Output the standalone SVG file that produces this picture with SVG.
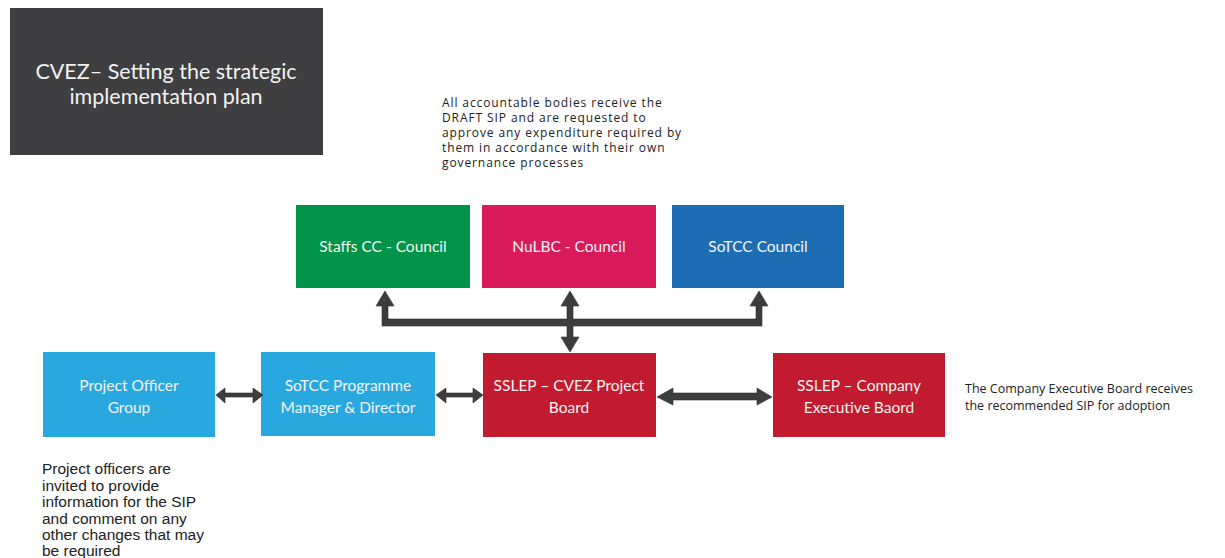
<svg xmlns="http://www.w3.org/2000/svg" width="1225" height="558" viewBox="0 0 1225 558">
<style>
.box text{font-family:Lato,"Open Sans","Liberation Sans",sans-serif;font-size:15.5px;fill:#f4f4f4;text-anchor:middle}
.note{font-family:"Open Sans",Lato,"Liberation Sans",sans-serif;font-size:12px;letter-spacing:0.9px;fill:#222}
.note3{font-family:"Open Sans",Lato,"Liberation Sans",sans-serif;font-size:12.5px;fill:#222}
.note2{font-family:"Liberation Sans",Arial,sans-serif;font-size:15.5px;fill:#222}
.arr{fill:#3d3d3d;stroke:#2b2b2b;stroke-width:0.6}
</style>
<rect width="1225" height="558" fill="#ffffff"/>
<g id="title">
<rect x="10" y="8" width="313" height="147" fill="#3f3e40"/>
<text x="166" y="79" font-family="Lato,'Open Sans','Liberation Sans',sans-serif" font-size="21.5" fill="#f2f2f2" text-anchor="middle">CVEZ– Setting the strategic</text>
<text x="166" y="104" font-family="Lato,'Open Sans','Liberation Sans',sans-serif" font-size="21.5" fill="#f2f2f2" text-anchor="middle">implementation plan</text>
</g>
<g id="note-top" class="note">
<text x="442" y="107">All accountable bodies receive the</text>
<text x="442" y="122">DRAFT  SIP and are requested  to</text>
<text x="442" y="137">approve any expenditure  required by</text>
<text x="442" y="152">them  in accordance with their own</text>
<text x="442" y="167">governance processes</text>
</g>
<g id="staffs" class="box"><rect x="296" y="205" width="174" height="83" fill="#00944a"/><text x="383" y="252">Staffs CC  - Council</text></g>
<g id="nulbc" class="box"><rect x="482" y="205" width="174" height="83" fill="#d91b5b"/><text x="569" y="252">NuLBC - Council</text></g>
<g id="sotcc" class="box"><rect x="672" y="205" width="172" height="83" fill="#1c6db4"/><text x="758" y="252">SoTCC Council</text></g>
<g id="pog" class="box"><rect x="43" y="352" width="172" height="85" fill="#29a7df"/><text x="129" y="391">Project Officer</text><text x="129" y="413">Group</text></g>
<g id="progman" class="box"><rect x="261" y="352" width="174" height="84" fill="#29a7df"/><text x="348" y="391">SoTCC Programme</text><text x="348" y="413">Manager &amp; Director</text></g>
<g id="cvez" class="box"><rect x="483" y="353" width="173" height="84" fill="#c21a2e"/><text x="569" y="391">SSLEP  – CVEZ Project</text><text x="569" y="413">Board</text></g>
<g id="company" class="box"><rect x="773" y="353" width="172" height="84" fill="#c21a2e"/><text x="859" y="391">SSLEP  – Company</text><text x="859" y="413">Executive  Baord</text></g>
<g id="note-right" class="note3">
<text x="965" y="393">The Company Executive Board receives</text>
<text x="965" y="410">the recommended  SIP for adoption</text>
</g>
<g id="note-left" class="note2">
<text x="42" y="474">Project officers  are</text>
<text x="42" y="490.5">invited to provide</text>
<text x="42" y="507">information  for the SIP</text>
<text x="42" y="523.5">and comment on any</text>
<text x="42" y="540">other changes that may</text>
<text x="42" y="556">be required</text>
</g>
<g id="connectors">
<path class="arr" d="M382,326 V306 H376 L385,291 L394,306 H388 V319 H567 V306 H561 L570,291 L579,306 H573 V319 H756 V306 H750 L759,291 L768,306 H762 V326 H573 V337 H579 L570,352 L561,337 H567 V326 Z"/>
<path class="arr" d="M216,395 L225,388 V393 H253 V388 L263,395 L253,403 V397 H225 V403 Z"/>
<path class="arr" d="M436,395 L446,388 V393 H473 V388 L483,395 L473,403 V397 H446 V403 Z"/>
<path class="arr" d="M657,397 L673,388 V393 H757 V388 L772,397 L757,405 V400 H673 V405 Z"/>
</g>
</svg>
